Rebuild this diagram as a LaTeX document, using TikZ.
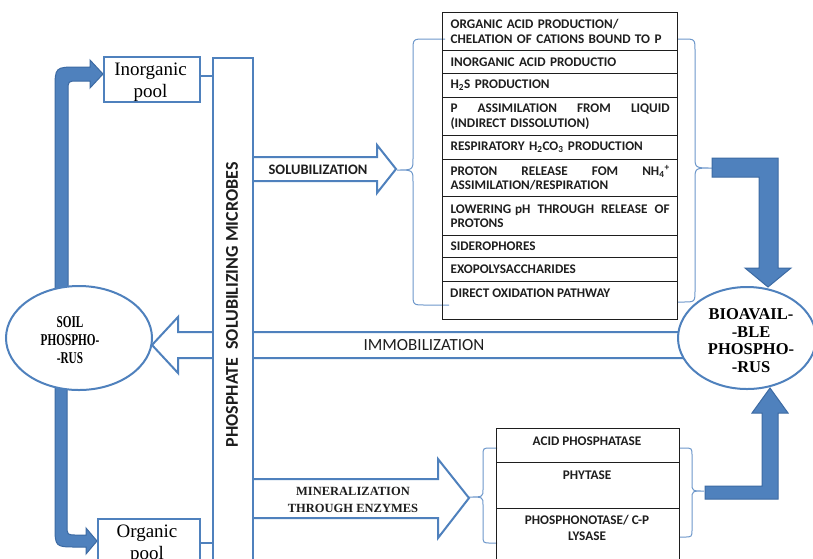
\documentclass[tikz,border=0pt]{standalone}
\usepackage{fontspec}
\setmainfont{Liberation Serif}
\newfontfamily\calfont{Carlito}
\usetikzlibrary{shapes.geometric}
\definecolor{bl}{HTML}{4F81BD}
\definecolor{bld}{HTML}{3C6AA3}
\definecolor{brc}{HTML}{6E98CB}
\definecolor{tx}{HTML}{1E1E1E}
\newcommand{\fillrow}[1]{\hbox to 219pt{#1}}
\begin{document}
\begin{tikzpicture}[x=1pt,y=-1pt,
  blueline/.style={draw=bl, line width=2pt},
  hollow/.style={draw=bl, line width=2pt, fill=white, line join=miter},
  solidarrow/.style={fill=bl, draw=bld, line width=1pt},
  bracepath/.style={draw=brc, line width=1pt},
  cellfont/.style={font=\calfont\bfseries\fontsize{13.2}{14.5}\selectfont, text=tx},
  cell/.style={cellfont, draw=tx, line width=1.2pt, anchor=north west, minimum width=235pt, inner xsep=8pt, inner ysep=0pt, text width=219pt, align=left},
  bcell/.style={draw=tx, line width=1.2pt, anchor=north west, minimum width=183pt, inner sep=0pt},
  poolbox/.style={draw=bl, line width=2pt, fill=white, anchor=north west, inner sep=0pt},
  pooltext/.style={font=\fontsize{19}{22}\selectfont, align=center, inner sep=0pt},
  phos/.style={ellipse, draw=bl, line width=2pt, fill=white, inner sep=0pt},
  phostext/.style={font=\bfseries\fontsize{16.5}{17.7}\selectfont, align=center, inner sep=0pt}
]
\useasboundingbox (0,0) rectangle (813,558);
\clip (0,0) rectangle (813,558);
\fill[white] (0,0) rectangle (813,558);

% braces
\draw[bracepath] (445,39) -- (425,39) .. controls (413,39) .. (413,51) -- (413,158) .. controls (413,170) .. (397,170) .. controls (413,170) .. (413,182) -- (413,293) .. controls (413,305) .. (425,305) -- (449,305);
\draw[bracepath] (678,39) -- (683,39) .. controls (695,39) .. (695,51) -- (695,156) .. controls (695,168) .. (712,168) .. controls (695,168) .. (695,180) -- (695,290) .. controls (695,302) .. (683,302) -- (678,302);
\draw[bracepath] (497,448) -- (491,448) .. controls (483,448) .. (483,456) -- (483,489) .. controls (483,497) .. (469,497) .. controls (483,497) .. (483,505) -- (483,535) .. controls (483,543) .. (491,543) -- (497,543);
\draw[bracepath] (679,448) -- (684,448) .. controls (692,448) .. (692,456) -- (692,483) .. controls (692,491) .. (704,491) .. controls (692,491) .. (692,499) -- (692,529) .. controls (692,537) .. (684,537) -- (679,537);

% solid arrows
\filldraw[solidarrow] (55,300) -- (55,90) .. controls (55,67) .. (78,67) -- (90,67) -- (90,60) -- (103,74) -- (90,88) -- (90,81) -- (78,81) .. controls (68,81) .. (68,91) -- (68,300) -- cycle;
\filldraw[solidarrow] (55,375) -- (55,525) .. controls (55,547) .. (77,547) -- (86,547) -- (86,554) -- (97,541) -- (86,528) -- (86,535) -- (77,535) .. controls (67,535) .. (67,525) -- (67,375) -- cycle;
\filldraw[solidarrow] (712,158) -- (778,158) -- (778,268) -- (791,268) -- (768,287) -- (745,268) -- (759,268) -- (759,177) -- (712,177) -- cycle;
\filldraw[solidarrow] (705,486) -- (762,486) -- (762,413) -- (752,413) -- (770,388) -- (788,413) -- (778,413) -- (778,499) -- (705,499) -- cycle;

% hollow arrows
\filldraw[hollow] (700,332) -- (178,332) -- (178,317) -- (152,345) -- (178,373) -- (178,358) -- (700,358) -- cycle;
\filldraw[hollow] (252,157) -- (377,157) -- (377,145) -- (396,169) -- (377,193) -- (377,181) -- (252,181) -- cycle;
\filldraw[hollow] (252,479) -- (438,479) -- (438,459) -- (469,498) -- (438,538) -- (438,518) -- (252,518) -- cycle;

% central box
\node[poolbox, minimum width=40pt, minimum height=580pt] (psm) at (212,57) {};
\node[rotate=90, font=\calfont\bfseries\fontsize{18}{20}\selectfont, text=tx] (psmtext) at (232,305) {PHOSPHATE\ \ SOLUBILIZING MICROBES};

% pools
\node[poolbox, minimum width=96pt, minimum height=45pt] (inorg) at (103,56) {};
\node[pooltext] (inorgtext) at (150.5,82) {Inorganic\\pool};
\draw[blueline] (inorg.east |- 0,76) coordinate (ia) -- (ia -| psm.west);
\node[poolbox, minimum width=102pt, minimum height=80pt] (org) at (97,518) {};
\node[pooltext] (orgtext) at (147,544) {Organic\\pool};
\coordinate (oa) at (199,543);
\draw[blueline] (oa) -- (oa -| psm.west);

% ellipses
\node[phos, minimum width=146pt, minimum height=104pt] (soil) at (79,338) {};
\node[phostext] (soiltext) at (70,340) {\scalebox{0.68}[1]{SOIL}\\\scalebox{0.68}[1]{PHOSPHO-}\\\scalebox{0.68}[1]{-RUS}};
\node[phos, minimum width=138pt, minimum height=102pt] (bio) at (747,338) {};
\node[phostext] (biotext) at (751,340.5) {BIOAVAIL-\\-BLE\\PHOSPHO-\\-RUS};

% arrow labels
\node[anchor=base, font=\calfont\bfseries\fontsize{14.5}{16}\selectfont, text=tx] (sol) at (318,174) {SOLUBILIZATION};
\node[anchor=base, font=\calfont\fontsize{17}{19}\selectfont, text=tx] (imm) at (424,350.5) {IMMOBILIZATION};
\node[font=\bfseries\fontsize{12.5}{17}\selectfont, align=center, inner sep=0pt, text=tx] (mintext) at (353,499.5) {MINERALIZATION\\THROUGH ENZYMES};

% solubilization table
\node[cell, minimum height=38pt] (r1) at (442,12) {ORGANIC ACID PRODUCTION/\\CHELATION OF CATIONS BOUND TO P};
\node[cell, minimum height=23pt] (r2) at (442,50) {INORGANIC ACID PRODUCTIO};
\node[cell, minimum height=24pt] (r3) at (442,73) {H\textsubscript{2}S PRODUCTION};
\node[cell, minimum height=38pt] (r4) at (442,97) {\fillrow{P\hfill ASSIMILATION\hfill FROM\hfill LIQUID}\\(INDIRECT DISSOLUTION)};
\node[cell, minimum height=24pt] (r5) at (442,135) {RESPIRATORY H\textsubscript{2}CO\textsubscript{3} PRODUCTION};
\node[cell, minimum height=37pt] (r6) at (442,159) {\fillrow{PROTON\hfill RELEASE\hfill FOM\hfill NH\textsubscript{4}\textsuperscript{+}}\\ASSIMILATION/RESPIRATION};
\node[cell, minimum height=39pt] (r7) at (442,196) {\fillrow{LOWERING\hskip 0.3em plus 1fil pH\hfill THROUGH\hfill RELEASE\hfill OF}\\PROTONS};
\node[cell, minimum height=22pt] (r8) at (442,235) {SIDEROPHORES};
\node[cell, minimum height=24pt] (r9) at (442,257) {EXOPOLYSACCHARIDES};
\node[cell, minimum height=38pt] (r10) at (442,281) {};
\node[cellfont, anchor=west, inner sep=0pt] (r10text) at (450,293) {DIRECT OXIDATION PATHWAY};

% enzyme table
\node[bcell, minimum height=34pt] (e1) at (496,428) {};
\node[bcell, minimum height=46pt] (e2) at (496,462) {};
\node[bcell, minimum height=90pt] (e3) at (496,508) {};
\node[cellfont, anchor=base] (e1text) at (587,445) {ACID PHOSPHATASE};
\node[cellfont, anchor=base] (e2text) at (587,479) {PHYTASE};
\node[cellfont, anchor=base] (e3text) at (587,524) {PHOSPHONOTASE/ C-P};
\node[cellfont, anchor=base] (e3text2) at (587,540) {LYSASE};
\end{tikzpicture}
\end{document}
